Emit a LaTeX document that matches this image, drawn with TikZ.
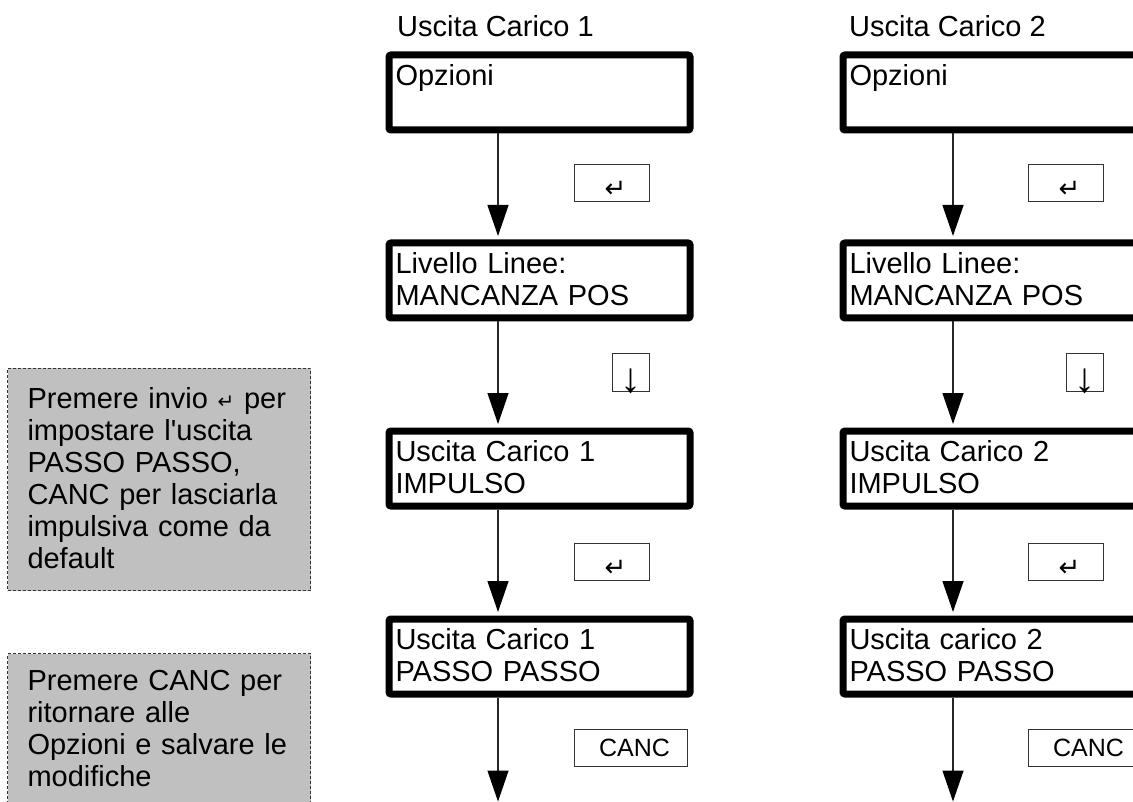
\documentclass[tikz,border=0pt]{standalone}
\usepackage{fontspec}
\setmainfont{Liberation Sans}
\newfontfamily\symfont{DejaVu Sans}
\usetikzlibrary{arrows.meta}

\definecolor{notegray}{RGB}{192,192,192}
\newcommand{\dstrut}{\rule[-7pt]{0pt}{32pt}}
\newcommand{\entkey}[1]{{\symfont\fontsize{#1}{#1}\selectfont ↵}}
\newcommand{\keyglyph}[2]{\hspace*{#1}\smash{\raisebox{#2}{\entkey{26}}}}
\newcommand{\downkey}{\smash{\raisebox{-20pt}{\fontsize{42}{42}\selectfont ↓}}}

\begin{document}
\begin{tikzpicture}[x=1pt,y=-1pt,
  display/.style={draw=black, line width=7pt, rounded corners=2pt, anchor=north west,
    minimum width=301pt, minimum height=75pt, text width=288pt, inner xsep=5pt,
    inner ysep=0pt, align=left, font=\fontsize{29}{32}\selectfont},
  keybox/.style={draw=black!80, line width=1pt, fill=white, inner sep=0pt,
    minimum height=37pt, font=\fontsize{25}{25}\selectfont},
  note/.style={draw=black!80, line width=1pt, dash pattern=on 3pt off 2pt, fill=notegray,
    anchor=north west, minimum width=303pt, text width=263pt, inner xsep=20pt,
    inner ysep=0pt, align=left, font=\fontsize{29}{32}\selectfont},
  title/.style={anchor=base west, inner sep=0pt, font=\fontsize{29}{32}\selectfont},
  flow/.style={draw=black!85, line width=1.3pt, -{Triangle[width=21pt,length=31pt,color=black]}, shorten >=3.5pt}
]
\useasboundingbox (0,0) rectangle (1133,802);
\clip (0,0) rectangle (1133,802);
% notes on the left
\node[note, minimum height=222pt] (n1) at (7,368)
  {\dstrut Premere invio \entkey{20} per\\\dstrut impostare l\textquotesingle uscita\\\dstrut PASSO PASSO,\\\dstrut CANC per lasciarla\\\dstrut impulsiva come da\\\dstrut default};
\node[note, minimum height=152pt] (n2) at (7,653)
  {\dstrut Premere CANC per\\\dstrut ritornare alle\\\dstrut Opzioni e salvare le\\\dstrut modifiche};
% column 1
\node[title] (t1) at (397,37) {Uscita Carico 1};
\node[display] (a1) at (385.5,51.5) {\dstrut Opzioni\\\dstrut};
\node[display] (a2) at (385.5,239.5) {\dstrut Livello Linee:\\\dstrut MANCANZA POS};
\node[display] (a3) at (385.5,427.5) {\dstrut Uscita Carico 1\\\dstrut IMPULSO};
\node[display] (a4) at (385.5,615.5) {\dstrut Uscita Carico 1\\\dstrut PASSO PASSO};
\coordinate (ae) at (498,805);
\node[keybox, minimum width=75pt] (ka1) at (612,183) {\keyglyph{7pt}{-15pt}};
\node[keybox, minimum width=37pt, minimum height=38pt] (ka2) at (631,372.5) {\downkey};
\node[keybox, minimum width=75pt] (ka3) at (612,561.5) {\keyglyph{7pt}{-15pt}};
\node[keybox, minimum width=113pt] (ka4) at (631,748) {\ CANC};
\draw[flow] (a1.south -| ae) -- (a2.north -| ae);
\draw[flow] (a2.south -| ae) -- (a3.north -| ae);
\draw[flow] (a3.south -| ae) -- (a4.north -| ae);
\draw[flow] (a4.south -| ae) -- (ae);
% column 2
\node[title] (t2) at (849,37) {Uscita Carico 2};
\node[display] (b1) at (839.5,51.5) {\dstrut Opzioni\\\dstrut};
\node[display] (b2) at (839.5,239.5) {\dstrut Livello Linee:\\\dstrut MANCANZA POS};
\node[display] (b3) at (839.5,427.5) {\dstrut Uscita Carico 2\\\dstrut IMPULSO};
\node[display] (b4) at (839.5,615.5) {\dstrut Uscita carico 2\\\dstrut PASSO PASSO};
\coordinate (be) at (953,805);
\node[keybox, minimum width=75pt] (kb1) at (1066,183) {\keyglyph{7pt}{-15pt}};
\node[keybox, minimum width=37pt, minimum height=38pt] (kb2) at (1085,372.5) {\downkey};
\node[keybox, minimum width=75pt] (kb3) at (1066,561.5) {\keyglyph{7pt}{-15pt}};
\node[keybox, minimum width=113pt] (kb4) at (1085,748) {\ CANC};
\draw[flow] (b1.south -| be) -- (b2.north -| be);
\draw[flow] (b2.south -| be) -- (b3.north -| be);
\draw[flow] (b3.south -| be) -- (b4.north -| be);
\draw[flow] (b4.south -| be) -- (be);
\end{tikzpicture}
\end{document}
